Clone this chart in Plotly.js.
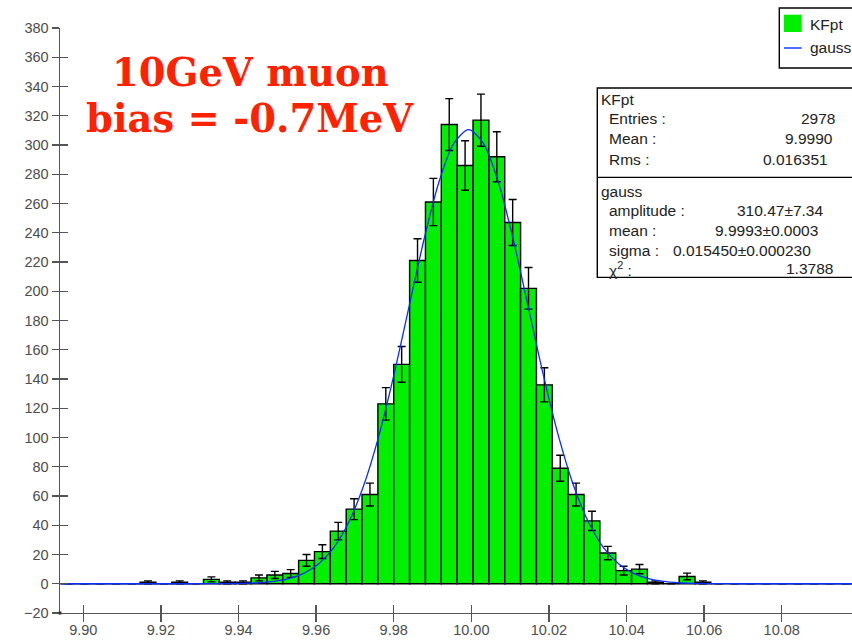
<!DOCTYPE html>
<html>
<head>
<meta charset="utf-8">
<script src="https://cdn.plot.ly/plotly-3.0.1.min.js"></script>
<style>html,body{margin:0;padding:0;background:#fff;}#chart{width:852px;height:640px;}</style>
</head>
<body>
<div id="chart"></div>
<script>
// ---- data ----
const binStart = 9.8942;      // low edge of first bin
const binWidth = 0.004086;    // 50 bins
const counts = [0,0,0,0,0, 1,0,1,0,3, 1,1,4,6,7, 16,22,36,51,61,
                123,150,221,261,314, 286,317,292,247,202,
                136,79,61,43,21, 9,10,1,0,5, 1,0,0,0,0, 0,0,0,0,0];
// fitted gauss curve (amplitude 310.47, mean 9.9993, sigma 0.01545)
const gaussX = [9.8940, 9.92978, 9.93750, 9.94136, 9.94523, 9.94909, 9.95295, 9.95681, 9.96068, 9.96454,
                9.96840, 9.97226, 9.97613, 9.97999, 9.98385, 9.98771, 9.99158, 9.99544, 9.99930,
                10.00316, 10.00703, 10.01089, 10.01475, 10.01861, 10.02248, 10.02634, 10.03020,
                10.03406, 10.03793, 10.04179, 10.04565, 10.04951, 10.05338, 10.05724, 10.06110, 10.06883, 10.0981];
const gaussY = [0, 0.01, 0.10, 0.27, 0.68, 1.58, 3.45, 7.08, 13.64, 24.70,
                42.02, 67.15, 100.79, 142.14, 188.31, 234.36, 273.99, 300.92, 310.47,
                300.92, 273.99, 234.36, 188.31, 142.14, 100.79, 67.15, 42.02,
                24.70, 13.64, 7.08, 3.45, 1.58, 0.68, 0.27, 0.10, 0.01, 0];
const xRange = [9.8940, 10.0981];
const yRange = [-20, 380];
const statsLabels = ["Entries :", "Mean :", "Rms :"];
const statsValues = ["2978", "9.9990", "0.016351"];
const fitLabels = ["amplitude :", "mean :", "sigma :", "χ<sup>2</sup> :"];
const fitValues = ["310.47±7.34", "9.9993±0.0003", "0.015450±0.000230", "1.3788"];
const titleLines = ["10GeV muon", "bias = -0.7MeV"];
const legendNames = ["KFpt", "gauss"];

// ---- layout helpers (pixel -> paper) ----
const L = 60, T = 28.3, W = 792, H = 585;
const pxX = p => (p - L) / W;
const pxY = p => (T + H - p) / H;

const green = '#00f000';
const axisCol = '#555555';
const txtFont = 'Liberation Sans, Arial, Helvetica, sans-serif';

const traces = [
  {
    type: 'bar', x0: binStart + binWidth / 2, dx: binWidth, y: counts, width: binWidth,
    marker: {color: green, line: {color: '#000', width: 1.4}},
    error_y: {type: 'sqrt', visible: true, color: '#000', thickness: 1.4, width: 4},
    hoverinfo: 'skip', showlegend: false
  },
  {
    type: 'scatter', mode: 'lines', x: gaussX, y: gaussY,
    line: {color: '#0a2cff', width: 1.3, shape: 'spline', smoothing: 0.8},
    hoverinfo: 'skip', showlegend: false
  },
  {type: 'scatter', mode: 'lines', x: [xRange[0]], y: [yRange[0]], xaxis: 'x2', yaxis: 'y2',
   line: {width: 0}, showlegend: false, hoverinfo: 'skip'}
];

const shapes = [];
const annotations = [];

// title
const titleY = [73, 119];
titleLines.forEach((t, i) => annotations.push({
  xref: 'paper', yref: 'paper', x: pxX(250), y: pxY(titleY[i]), xanchor: 'center', yanchor: 'middle',
  text: '<b>' + t + '</b>', showarrow: false,
  font: {family: 'DejaVu Serif, Liberation Serif, serif', size: 38.5, color: '#ff2200'}
}));

// stats box
shapes.push({type: 'rect', xref: 'paper', yref: 'paper', x0: pxX(597.3), x1: pxX(870), y0: pxY(88.3), y1: pxY(277.7),
  fillcolor: '#fff', line: {color: '#000', width: 1.4}, layer: 'above'});
shapes.push({type: 'line', xref: 'paper', yref: 'paper', x0: pxX(597.3), x1: pxX(870), y0: pxY(177.7), y1: pxY(177.7),
  line: {color: '#000', width: 1.4}, layer: 'above'});
const sFont = {family: txtFont, size: 15.5, color: '#222'};
const addTxt = (text, x, y, anchor) => annotations.push({
  xref: 'paper', yref: 'paper', x: pxX(x), y: pxY(y), xanchor: anchor, yanchor: 'middle',
  text: text, showarrow: false, font: sFont
});
addTxt('KFpt', 598.5, 100, 'left');
const sY = [118.5, 139, 159.5];
const sRight = [836.7, 835, 830];
statsLabels.forEach((t, i) => { addTxt(t, 607, sY[i], 'left'); addTxt(statsValues[i], sRight[i], sY[i], 'right'); });
addTxt('gauss', 598.5, 191.5, 'left');
const fY = [211, 231, 250.5, 269];
const fX = [780, 766.5, 742, 835];
const fAnchor = ['center', 'center', 'center', 'right'];
fitLabels.forEach((t, i) => { addTxt(t, 607, fY[i], 'left'); addTxt(fitValues[i], fX[i], fY[i], fAnchor[i]); });

// legend box
shapes.push({type: 'rect', xref: 'paper', yref: 'paper', x0: pxX(779.3), x1: pxX(870), y0: pxY(8.3), y1: pxY(68.3),
  fillcolor: '#fff', line: {color: '#000', width: 1.4}, layer: 'above'});
shapes.push({type: 'rect', xref: 'paper', yref: 'paper', x0: pxX(784), x1: pxX(801.7), y0: pxY(15), y1: pxY(32.3),
  fillcolor: green, line: {width: 0}, layer: 'above'});
shapes.push({type: 'line', xref: 'paper', yref: 'paper', x0: pxX(784), x1: pxX(801.7), y0: pxY(48.3), y1: pxY(48.3),
  line: {color: '#0a2cff', width: 1.4}, layer: 'above'});
addTxt(legendNames[0], 808, 24.5, 'left');
addTxt(legendNames[1], 808, 48, 'left');

// corner marker
shapes.push({type: 'rect', xref: 'paper', yref: 'paper', x0: pxX(58.5), x1: pxX(61.5), y0: pxY(611.8), y1: pxY(614.8),
  fillcolor: '#333', line: {width: 0}, layer: 'above'});

const axCommon = {showgrid: false, tickcolor: axisCol, tickwidth: 1.4};
const layout = {
  width: 852, height: 640,
  margin: {l: 60, r: 0, t: 28.3, b: 26.7, pad: 0},
  paper_bgcolor: '#fff', plot_bgcolor: '#fff',
  font: {family: txtFont, color: '#4d4d4d'},
  showlegend: false, bargap: 0,
  xaxis: Object.assign({}, axCommon, {range: xRange, tick0: 9.9, dtick: 0.02, tickformat: '.2f',
    ticks: 'outside', ticklen: 7.5, showline: true, linecolor: axisCol, linewidth: 1.4, zeroline: false,
    ticklabelstandoff: -4,
    tickfont: {family: txtFont, size: 14.5, color: '#4d4d4d'}}),
  yaxis: Object.assign({}, axCommon, {range: yRange, tick0: 0, dtick: 20,
    ticks: 'outside', ticklen: 7, showline: true, linecolor: axisCol, linewidth: 1.4,
    zeroline: true, zerolinecolor: '#000', zerolinewidth: 1.4,
    tickfont: {family: txtFont, size: 14.5, color: '#4d4d4d'}}),
  xaxis2: Object.assign({}, axCommon, {range: xRange, tick0: 9.9, dtick: 0.02, overlaying: 'x', side: 'bottom', anchor: 'y2',
    ticks: 'inside', ticklen: 8, showticklabels: false, showline: false, zeroline: false}),
  yaxis2: Object.assign({}, axCommon, {range: yRange, tick0: 0, dtick: 20, overlaying: 'y', side: 'left', anchor: 'x2',
    ticks: 'inside', ticklen: 8, showticklabels: false, showline: false, zeroline: false}),
  shapes: shapes, annotations: annotations
};
Plotly.newPlot('chart', traces, layout, {staticPlot: true, displayModeBar: false});
</script>
</body>
</html>
